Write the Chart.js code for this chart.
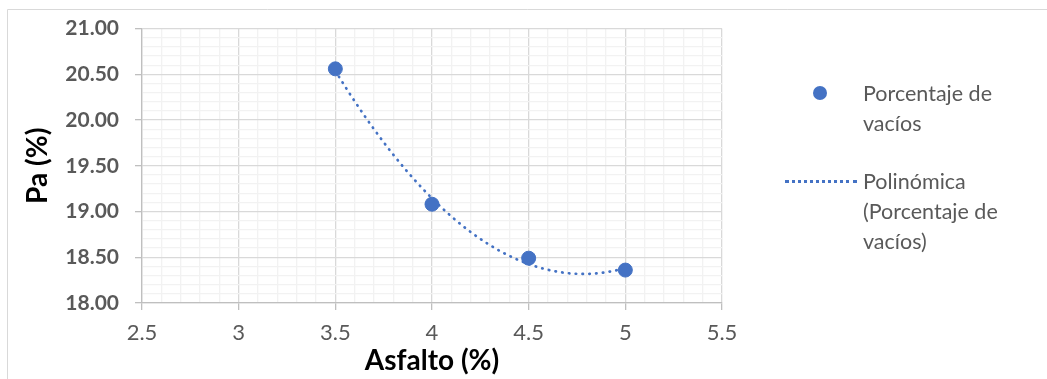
<!DOCTYPE html>
<html>
<head>
<meta charset="utf-8">
<script src="https://cdn.jsdelivr.net/npm/chart.js@4"></script>
<style>
  html, body { margin: 0; padding: 0; background: #fff; }
  #wrap { position: relative; width: 1047px; height: 379px; }
  #leyenda { position: absolute; left: 0; top: 0; font-family: Lato, "Open Sans", sans-serif; font-size: 21.5px; color: #595959; }
  .item { position: absolute; left: 863px; line-height: 30px; white-space: nowrap; }
  .punto { position: absolute; left: 813px; top: 86px; width: 14px; height: 14px; border-radius: 50%; background: #4472C4; }
  .linea { position: absolute; left: 785px; top: 180px; width: 72px; height: 0; border-top: 3px dotted #4472C4; }
</style>
</head>
<body>
<div id="wrap">
  <canvas id="grafico" width="1047" height="379"></canvas>
  <div id="leyenda">
    <div class="punto"></div>
    <div class="item" style="top:78px">Porcentaje de<br>vacíos</div>
    <div class="linea"></div>
    <div class="item" style="top:166px">Polinómica<br>(Porcentaje de<br>vacíos)</div>
  </div>
</div>
<script>
// asfalto (%) vs porcentaje de vacios
const asfalto = [3.5, 4, 4.5, 5];
const vacios = [20.56, 19.08, 18.49, 18.36];

const ejeX = { min: 2.5, max: 5.5, paso: 0.1 };
const ejeY = { min: 18, max: 21, paso: 0.1 };

const fuente = 'Lato, "Open Sans", sans-serif';

// ajuste polinomico de grado 2 (minimos cuadrados)
function ajustePolinomico(xs, ys) {
  let s = [0, 0, 0, 0, 0], t = [0, 0, 0];
  xs.forEach((x, i) => {
    for (let k = 0; k < 5; k++) s[k] += Math.pow(x, k);
    for (let k = 0; k < 3; k++) t[k] += ys[i] * Math.pow(x, k);
  });
  const m = [[s[0], s[1], s[2], t[0]], [s[1], s[2], s[3], t[1]], [s[2], s[3], s[4], t[2]]];
  for (let c = 0; c < 3; c++) {
    for (let r = c + 1; r < 3; r++) {
      const f = m[r][c] / m[c][c];
      for (let k = c; k < 4; k++) m[r][k] -= f * m[c][k];
    }
  }
  const a = [0, 0, 0];
  for (let r = 2; r >= 0; r--) {
    let v = m[r][3];
    for (let k = r + 1; k < 3; k++) v -= m[r][k] * a[k];
    a[r] = v / m[r][r];
  }
  return a;
}

const coef = ajustePolinomico(asfalto, vacios);
const tendencia = [];
for (let i = 0; i <= 60; i++) {
  const x = asfalto[0] + (asfalto[asfalto.length - 1] - asfalto[0]) * i / 60;
  tendencia.push({ x: x, y: coef[0] + coef[1] * x + coef[2] * x * x });
}

const esMayor = v => Math.round(v * 10) % 5 === 0;

// borde exterior del grafico
const borde = {
  id: 'borde',
  beforeDraw(chart) {
    const ctx = chart.ctx;
    ctx.save();
    ctx.strokeStyle = '#d9d9d9';
    ctx.lineWidth = 1;
    ctx.beginPath();
    ctx.moveTo(7.5, 379);
    ctx.lineTo(7.5, 9.5);
    ctx.lineTo(1047, 9.5);
    ctx.stroke();
    ctx.restore();
  }
};

const grafico = new Chart(document.getElementById('grafico'), {
  type: 'scatter',
  data: {
    datasets: [
      {
        label: 'Polinómica (Porcentaje de vacíos)',
        data: tendencia,
        showLine: true,
        borderColor: '#4472C4',
        borderWidth: 2.7,
        borderCapStyle: 'round',
        borderDash: [0.5, 6.3],
        pointRadius: 0,
        tension: 0,
        order: 2
      },
      {
        label: 'Porcentaje de vacíos',
        data: asfalto.map((x, i) => ({ x: x, y: vacios[i] })),
        backgroundColor: '#4472C4',
        borderColor: '#4472C4',
        pointRadius: 7,
        pointHoverRadius: 7,
        order: 1
      }
    ]
  },
  options: {
    responsive: false,
    animation: false,
    layout: { padding: { top: 28, right: 325, left: 0, bottom: 0 } },
    plugins: { legend: { display: false }, tooltip: { enabled: false } },
    scales: {
      x: {
        type: 'linear',
        min: ejeX.min, max: ejeX.max,
        afterFit: s => { s.height = 76; },
        ticks: {
          stepSize: ejeX.paso,
          autoSkip: false,
          maxRotation: 0,
          padding: 10,
          color: '#595959',
          font: { family: fuente, size: 22 },
          callback: v => esMayor(v) ? String(Math.round(v * 10) / 10) : ''
        },
        grid: {
          color: c => esMayor(c.tick.value) ? '#d9d9d9' : '#f2f2f2',
          tickColor: c => esMayor(c.tick.value) ? '#bfbfbf' : 'rgba(0,0,0,0)',
          tickLength: 7,
          lineWidth: 1.3
        },
        border: { color: '#bfbfbf', width: 1.3 },
        title: {
          display: true,
          text: 'Asfalto (%)',
          color: '#000',
          font: { family: fuente, size: 28, weight: 'bold' },
          padding: { top: 0, bottom: 1 }
        }
      },
      y: {
        type: 'linear',
        min: ejeY.min, max: ejeY.max,
        afterFit: s => { s.width = 142; },
        ticks: {
          stepSize: ejeY.paso,
          autoSkip: false,
          padding: 16,
          color: '#595959',
          font: { family: fuente, size: 21, weight: 'bold' },
          callback: v => esMayor(v) ? v.toFixed(2) : ''
        },
        grid: {
          color: c => esMayor(c.tick.value) ? '#d9d9d9' : '#f2f2f2',
          tickColor: c => esMayor(c.tick.value) ? '#bfbfbf' : 'rgba(0,0,0,0)',
          tickLength: 7,
          lineWidth: 1.3
        },
        border: { color: '#bfbfbf', width: 1.3 },
        title: {
          display: true,
          text: 'Pa (%)',
          color: '#000',
          font: { family: fuente, size: 28, weight: 'bold' },
          padding: { top: 21, bottom: 0 }
        }
      }
    }
  },
  plugins: [borde]
});
</script>
</body>
</html>
